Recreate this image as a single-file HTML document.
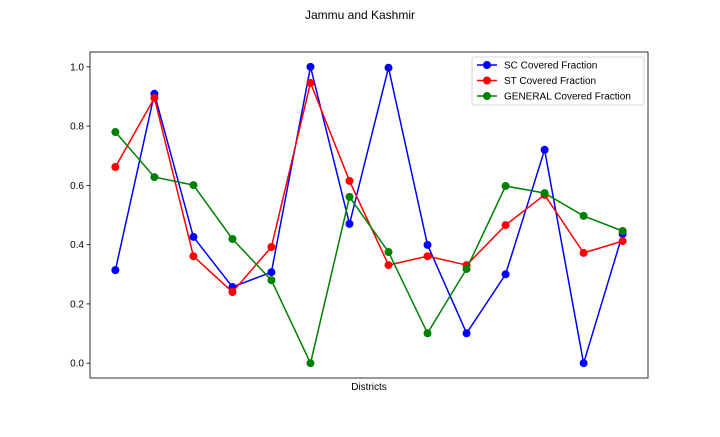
<!DOCTYPE html>
<html><head><meta charset="utf-8"><style>
body{margin:0;background:#fff;}
svg text{font-family:"Liberation Sans","DejaVu Sans",sans-serif;}
</style></head><body>
<svg id="chart" width="720" height="432" xmlns="http://www.w3.org/2000/svg"></svg>
<script>
const categories=[0,1,2,3,4,5,6,7,8,9,10,11,12,13];
const scValues=[0.314,0.909,0.426,0.257,0.307,1.0,0.47,0.997,0.399,0.101,0.30,0.72,0.0,0.436];
const stValues=[0.662,0.895,0.361,0.24,0.392,0.946,0.615,0.331,0.361,0.331,0.466,0.568,0.372,0.412];
const genValues=[0.78,0.628,0.601,0.419,0.28,0.0,0.561,0.375,0.101,0.318,0.598,0.574,0.497,0.446];
const yTicks=[0.0,0.2,0.4,0.6,0.8,1.0];
const seriesNames=["SC Covered Fraction","ST Covered Fraction","GENERAL Covered Fraction"];

const NS="http://www.w3.org/2000/svg";
const svg=document.getElementById('chart');
const L=90,R=648,T=52,B=378;
const n=categories.length;
const xmin=-0.65*(n-1)/13, xmax=(n-1)+0.65*(n-1)/13;
function x(i){return L+(i-xmin)/(xmax-xmin)*(R-L);}
function y(v){return B-(v+0.05)/1.1*(B-T);}
function el(tag,attrs,parent){const e=document.createElementNS(NS,tag);for(const k in attrs)e.setAttribute(k,attrs[k]);(parent||svg).appendChild(e);return e;}

const title=el('text',{x:360,y:19,'text-anchor':'middle','font-size':12,fill:'#000'});
title.textContent='Jammu and Kashmir';



const frame=el('rect',{x:L,y:T,width:R-L,height:B-T,fill:'none',stroke:'#000','stroke-width':0.8});



yTicks.forEach(t=>{
  const yy=y(t);
  const tk=el('line',{x1:L-3.5,x2:L,y1:yy,y2:yy,stroke:'#000','stroke-width':0.8});
  
  
  const lb=el('text',{x:L-6,y:yy+3.5,'text-anchor':'end','font-size':10,fill:'#000'});
  lb.textContent=t.toFixed(1);
  
  
});

const xl=el('text',{x:(L+R)/2,y:390,'text-anchor':'middle','font-size':10,fill:'#000'});
xl.textContent='Districts';



const colors=['#0000ff','#ff0000','#008000'];
const allSeries=[scValues,stValues,genValues];
const snames=['sc-series','st-series','general-series'];
allSeries.forEach((vals,s)=>{
  const g=el('g',{});
  
  
  const pts=vals.map((v,i)=>x(categories[i]).toFixed(1)+','+y(v).toFixed(1)).join(' ');
  const pl=el('polyline',{points:pts,fill:'none',stroke:colors[s],'stroke-width':1.5},g);
  
  
  vals.forEach((v,i)=>{
    const c=el('circle',{cx:x(categories[i]),cy:y(v),r:4,fill:colors[s]},g);
    
    
  });
});

const lg=el('g',{});


el('rect',{x:472,y:57,width:172,height:48,rx:2,fill:'#fff',stroke:'#ccc','stroke-width':0.8},lg);
seriesNames.forEach((nm,s)=>{
  const yy=65+s*15.5;
  const e=el('g',{},lg);
  
  
  el('line',{x1:477,x2:497,y1:yy,y2:yy,stroke:colors[s],'stroke-width':1.5},e);
  el('circle',{cx:487,cy:yy,r:4,fill:colors[s]},e);
  const t=el('text',{x:504,y:yy+3.5,'font-size':10,fill:'#000'},e);
  t.textContent=nm;
});
</script>
</body></html>
